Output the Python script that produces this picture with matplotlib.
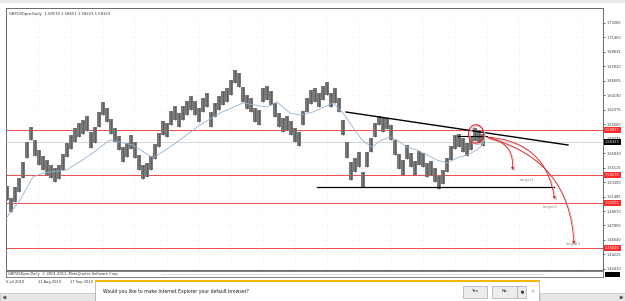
import matplotlib
matplotlib.use("Agg")
import matplotlib.pyplot as plt
import matplotlib.transforms as mtransforms
from matplotlib.patches import Ellipse, FancyArrowPatch, Rectangle

W, H = 625, 301

# GBPUSD daily, each bar here ~3 trading days
highs = [
    1.5281, 1.5130, 1.5268, 1.5381, 1.5582, 1.5833, 1.6021, 1.5858, 1.5733, 1.5657,
    1.5607, 1.5544, 1.5507, 1.5544, 1.5683, 1.5820, 1.5921, 1.6009, 1.6071, 1.6109,
    1.6159, 1.5958, 1.6021, 1.6209, 1.6335, 1.6260, 1.6122, 1.6009, 1.5908, 1.5770,
    1.5820, 1.5921, 1.5833, 1.5670, 1.5544, 1.5570, 1.5657, 1.5808, 1.5946, 1.6096,
    1.6071, 1.6222, 1.6285, 1.6197, 1.6285, 1.6347, 1.6410, 1.6347, 1.6260, 1.6385,
    1.6448, 1.6209, 1.6322, 1.6410, 1.6473, 1.6510, 1.6611, 1.6736, 1.6699, 1.6523,
    1.6423, 1.6385, 1.6260, 1.6234, 1.6510, 1.6536, 1.6473, 1.6322, 1.6197, 1.6134,
    1.6159, 1.6096, 1.6009, 1.5958, 1.6222, 1.6385, 1.6485, 1.6510, 1.6448, 1.6536,
    1.6586, 1.6448, 1.6510, 1.6385, 1.6109, 1.5833, 1.5582, 1.5632, 1.5708, 1.5457,
    1.5708, 1.5883, 1.6071, 1.6159, 1.6134, 1.6134, 1.6046, 1.5858, 1.5683, 1.5607,
    1.5795, 1.5695, 1.5595, 1.5720, 1.5695, 1.5570, 1.5595, 1.5507, 1.5406, 1.5482,
    1.5632, 1.5783, 1.5921, 1.5933, 1.5883, 1.5820, 1.5908, 1.6009, 1.5983, 1.5933]
lows = [
    1.5105, 1.4955, 1.5080, 1.5206, 1.5381, 1.5632, 1.5858, 1.5657, 1.5544, 1.5482,
    1.5419, 1.5381, 1.5331, 1.5369, 1.5482, 1.5645, 1.5745, 1.5833, 1.5896, 1.5933,
    1.5971, 1.5758, 1.5820, 1.6021, 1.6172, 1.6084, 1.5933, 1.5833, 1.5733, 1.5582,
    1.5645, 1.5745, 1.5632, 1.5482, 1.5369, 1.5394, 1.5482, 1.5620, 1.5770, 1.5921,
    1.5896, 1.6046, 1.6109, 1.6021, 1.6109, 1.6172, 1.6234, 1.6172, 1.6084, 1.6209,
    1.6272, 1.6021, 1.6147, 1.6234, 1.6297, 1.6335, 1.6423, 1.6573, 1.6523, 1.6335,
    1.6247, 1.6209, 1.6084, 1.6046, 1.6335, 1.6360, 1.6297, 1.6147, 1.6021, 1.5958,
    1.5983, 1.5921, 1.5833, 1.5783, 1.6046, 1.6209, 1.6310, 1.6335, 1.6272, 1.6360,
    1.6423, 1.6272, 1.6322, 1.6209, 1.5921, 1.5632, 1.5356, 1.5457, 1.5519, 1.5268,
    1.5519, 1.5708, 1.5896, 1.6046, 1.5958, 1.5996, 1.5858, 1.5670, 1.5494, 1.5419,
    1.5620, 1.5519, 1.5419, 1.5544, 1.5519, 1.5394, 1.5419, 1.5331, 1.5243, 1.5306,
    1.5457, 1.5607, 1.5745, 1.5770, 1.5708, 1.5657, 1.5733, 1.5845, 1.5820, 1.5783]

# moving average (blue line)
ma_idx = [0, 3.25, 6.5, 9, 15, 20.75, 25.75, 31.5, 36.5, 41.5, 48.25, 53.25, 59, 65,
          67.5, 70.75, 73.25, 76.5, 81.5, 84, 87.5, 89, 91.25, 93.25, 95.75, 97.5,
          100, 102.5, 105, 107.5, 110, 112.5, 115, 117.5, 119.25]
ma_val = [1.4892, 1.5105, 1.5394, 1.5444, 1.5482, 1.5670, 1.5858, 1.5795, 1.5632,
          1.5795, 1.6046, 1.6197, 1.6322, 1.6272, 1.6335, 1.6197, 1.6172, 1.6209,
          1.6322, 1.6197, 1.5946, 1.5845, 1.5770, 1.5845, 1.5896, 1.5858, 1.5770,
          1.5733, 1.5670, 1.5607, 1.5570, 1.5632, 1.5670, 1.5733, 1.5820]

price_ticks = [1.42410, 1.44225, 1.46040, 1.47855, 1.49670, 1.51485, 1.53300, 1.55115,
               1.56930, 1.58745, 1.60560, 1.62375, 1.64190, 1.66005, 1.67820, 1.69635,
               1.71450, 1.73265]
date_idx = [0, 8, 16]
date_labels = ["5 Jul 2010", "11 Aug 2010", "17 Sep 2010"]

levels = [1.5983, 1.5419, 1.5068, 1.4503]
level_labels = ["1.59827", "1.54178", "1.50705", "1.45046"]
bid = 1.58323
title = "GBPUSDpro,Daily  1.58574 1.58651 1.58223 1.58323"

trend_x, trend_y = [84.75, 140.25], [1.6209, 1.5795]
support_x, support_y = [77.5, 136.75], [1.5268, 1.5268]
box_x, box_y = [112.75, 120], [1.5908, 1.5908]
circle_xy = (117.25, 1.5934)
arrow_from = (119.5, 1.5896)
targets = [(126.25, 1.5446), (137, 1.5080), (141.75, 1.4516)]
target_rad = [-0.5, -0.42, -0.38]
target_text = [(128.25, 1.5356), (134, 1.5017), (139.75, 1.4553)]
target_names = ["target1", "target2", "target3"]


def px(x0, y0, x1, y1):
    return [x0 / W, 1 - y1 / H, (x1 - x0) / W, (y1 - y0) / H]


fig = plt.figure(figsize=(W / 100, H / 100), dpi=100)
fig.patch.set_facecolor("white")

ax = fig.add_axes(px(6, 8, 603, 270))
ax.set_xlim(-0.25, 149)
ax.set_ylim(1.4227, 1.7514)

# dotted grid
for t in price_ticks:
    ax.axhline(t, color="#f2d6d6", lw=0.5, ls=(0, (1, 5)), zorder=0)
for d in range(0, 150, 8):
    ax.axvline(d, color="#f2d6d6", lw=0.5, ls=(0, (1, 5)), zorder=0)

# horizontal levels
for lv in levels:
    ax.axhline(lv, color="#f04848", lw=0.7, zorder=1)
ax.axhline(bid, color="#cfcfcf", lw=0.6, zorder=1)

# price bars (touching, so they read as the dense daily band)
ax.vlines(range(len(highs)), lows, highs, color="#7a7a7a", lw=2.9, zorder=3)
ax.vlines(range(len(highs)), lows, highs, color="#5a5a5a", lw=0.6, zorder=3)
ax.plot(ma_idx, ma_val, color="#93b3d3", lw=0.6, zorder=4)

# trend lines
ax.plot(trend_x, trend_y, color="black", lw=1.0, zorder=5)
ax.plot(support_x, support_y, color="black", lw=0.9, zorder=5)
ax.plot(box_x, box_y, color="black", lw=0.8, zorder=5)

shadow = mtransforms.offset_copy(ax.transData, fig=fig, x=1.5, y=-1.5, units="dots")
for tr, col, z in [(shadow, "#c8c8c8", 5), (ax.transData, "#e82020", 6)]:
    ax.add_patch(Ellipse(circle_xy, 3.8, 0.023, fill=False, ec=col, lw=0.8,
                         transform=tr, zorder=z))
    for (tx, ty), rad in zip(targets, target_rad):
        ax.add_patch(FancyArrowPatch(arrow_from, (tx, ty), transform=tr,
                                     connectionstyle=f"arc3,rad={rad}",
                                     arrowstyle="-|>", mutation_scale=3.5,
                                     color=col, lw=0.6, zorder=z))
for (tx, ty), name in zip(target_text, target_names):
    ax.text(tx, ty, name, fontsize=3.0, color="#9a9a9a", va="center", zorder=7)

# axes look
for s in ax.spines.values():
    s.set_color("#6a6a6a")
    s.set_linewidth(0.7)
ax.set_xticks([])
ax.yaxis.tick_right()
ax.set_yticks(price_ticks)
ax.set_yticklabels([f"{t:.5f}" for t in price_ticks])
ax.tick_params(axis="y", length=1.5, width=0.5, pad=1.2, labelsize=2.5,
               colors="#333333")

ytr = ax.get_yaxis_transform()
for lv, lab in zip(levels, level_labels):
    ax.text(1.0035, lv, lab, transform=ytr, fontsize=2.5, color="white", va="center",
            ha="left", clip_on=False, zorder=8,
            bbox=dict(boxstyle="square,pad=0.35", fc="#ff2a2a", ec="none"))
ax.text(1.0035, bid, f"{bid:.5f}", transform=ytr, fontsize=2.5, color="white",
        va="center", ha="left", clip_on=False, zorder=8,
        bbox=dict(boxstyle="square,pad=0.35", fc="black", ec="none"))
ax.text(0.005, 0.985, title, transform=ax.transAxes, fontsize=2.7, color="#333333",
        va="top", ha="left")

# thin sub-window strip under the chart
sub = fig.add_axes(px(6, 271, 603, 277))
sub.set_xlim(0, 1)
sub.set_ylim(0, 1)
sub.set_xticks([])
sub.set_yticks([])
for s in sub.spines.values():
    s.set_color("#6a6a6a")
    s.set_linewidth(0.6)
sub.text(0.003, 0.5, "GBPUSDpro,Daily  \u00a9 2001-2011, MetaQuotes Software Corp.",
         fontsize=2.6, color="#333333", va="center", ha="left")
sub.axhline(0.5, xmin=0.26, xmax=0.9, color="#b0b0b0", lw=0.6, ls=(0, (1, 1)))

# window chrome drawn in pixel coordinates
ui = fig.add_axes([0, 0, 1, 1], facecolor="none")
ui.set_xlim(0, W)
ui.set_ylim(H, 0)
ui.axis("off")
ui.add_patch(Rectangle((0, 0), W, 3, fc="#e8e8e8", ec="none"))
ui.add_patch(Rectangle((605, 272), 15, 5, fc="black", ec="none"))

for d, lab in zip(date_idx, date_labels):
    xp = ax.transData.transform((d, 0))[0]
    ui.text(xp - 1, 282, lab, fontsize=2.6, color="#333333", va="center", ha="left")

# scroll bars
ui.add_patch(Rectangle((0, 292.5), 95, 8, fc="#e6e6e6", ec="#b4b4b4", lw=0.4))
ui.plot(3.5, 296.5, marker="<", ms=1.6, color="#555555")
ui.add_patch(Rectangle((540, 292.5), 85, 8, fc="#e6e6e6", ec="#b4b4b4", lw=0.4))
ui.plot(621, 296.5, marker=">", ms=1.6, color="#555555")

# IE notification bar
ui.add_patch(Rectangle((95, 280), 444, 21, fc="white", ec="#a0a0a0", lw=0.5, zorder=2))
ui.add_patch(Rectangle((95, 280), 444, 2.2, fc="#f5b400", ec="none", zorder=3))
ui.text(103, 292, "Would you like to make Internet Explorer your default browser?",
        fontsize=3.3, color="#1e1e1e", va="center", ha="left", zorder=3)
for x0, x1, lab in [(463, 487, "Yes"), (492, 517, "No")]:
    ui.add_patch(Rectangle((x0, 285.5), x1 - x0, 12, fc="#ececec", ec="#a8a8a8",
                           lw=0.5, zorder=3))
    ui.text((x0 + x1) / 2, 291.5, lab, fontsize=3.1, color="#1e1e1e", va="center",
            ha="center", zorder=4)
ui.add_patch(Rectangle((517, 285.5), 9, 12, fc="#ececec", ec="#a8a8a8", lw=0.5, zorder=3))
ui.plot(521.5, 291.5, marker="v", ms=1.5, color="#333333", zorder=4)
ui.text(532, 291.5, "\u00d7", fontsize=3.5, color="#888888", va="center", ha="center",
        zorder=4)

fig.savefig("out.png", dpi=100)
